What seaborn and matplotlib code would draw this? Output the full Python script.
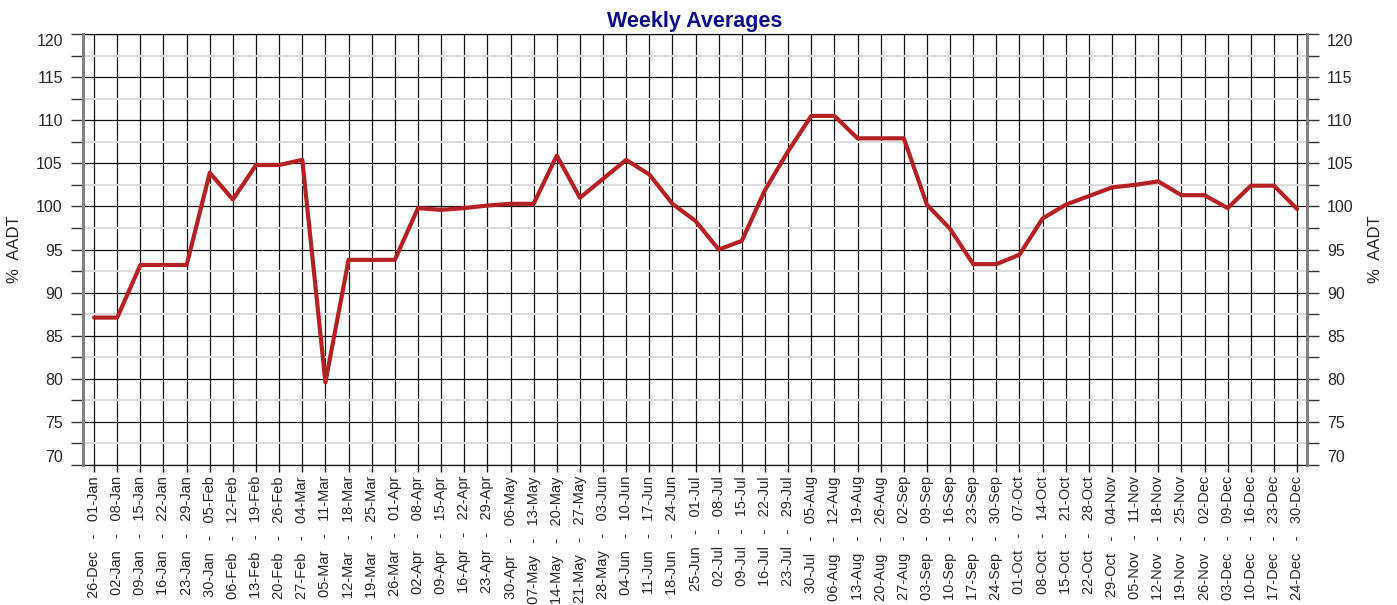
import numpy as np
import pandas as pd
import matplotlib
matplotlib.use("Agg")
import matplotlib.pyplot as plt
import seaborn as sns

# week start / end labels (53 weeks)
week_start = ["26-Dec", "02-Jan", "09-Jan", "16-Jan", "23-Jan", "30-Jan", "06-Feb", "13-Feb",
              "20-Feb", "27-Feb", "05-Mar", "12-Mar", "19-Mar", "26-Mar", "02-Apr", "09-Apr",
              "16-Apr", "23-Apr", "30-Apr", "07-May", "14-May", "21-May", "28-May", "04-Jun",
              "11-Jun", "18-Jun", "25-Jun", "02-Jul", "09-Jul", "16-Jul", "23-Jul", "30-Jul",
              "06-Aug", "13-Aug", "20-Aug", "27-Aug", "03-Sep", "10-Sep", "17-Sep", "24-Sep",
              "01-Oct", "08-Oct", "15-Oct", "22-Oct", "29-Oct", "05-Nov", "12-Nov", "19-Nov",
              "26-Nov", "03-Dec", "10-Dec", "17-Dec", "24-Dec"]
week_end = ["01-Jan", "08-Jan", "15-Jan", "22-Jan", "29-Jan", "05-Feb", "12-Feb", "19-Feb",
            "26-Feb", "04-Mar", "11-Mar", "18-Mar", "25-Mar", "01-Apr", "08-Apr", "15-Apr",
            "22-Apr", "29-Apr", "06-May", "13-May", "20-May", "27-May", "03-Jun", "10-Jun",
            "17-Jun", "24-Jun", "01-Jul", "08-Jul", "15-Jul", "22-Jul", "29-Jul", "05-Aug",
            "12-Aug", "19-Aug", "26-Aug", "02-Sep", "09-Sep", "16-Sep", "23-Sep", "30-Sep",
            "07-Oct", "14-Oct", "21-Oct", "28-Oct", "04-Nov", "11-Nov", "18-Nov", "25-Nov",
            "02-Dec", "09-Dec", "16-Dec", "23-Dec", "30-Dec"]

# weekly average as % of AADT
pct_aadt = [87.1, 87.1, 93.2, 93.2, 93.2, 103.9, 100.8, 104.8, 104.8, 105.4,
            79.6, 93.8, 93.8, 93.8, 99.8, 99.6, 99.8, 100.1, 100.3, 100.3,
            105.9, 101.0, 103.2, 105.4, 103.7, 100.3, 98.3, 95.0, 96.0, 101.9,
            106.4, 110.5, 110.5, 107.9, 107.9, 107.9, 100.2, 97.4, 93.3, 93.3,
            94.4, 98.6, 100.2, 101.2, 102.2, 102.5, 102.9, 101.3, 101.3, 99.8,
            102.4, 102.4, 99.7]

y_major = [70, 75, 80, 85, 90, 95, 100, 105, 110, 115, 120]

sns.set_theme(style="white")
plt.rcParams["font.family"] = ["Liberation Sans", "DejaVu Sans"]

df = pd.DataFrame({
    "pos": np.arange(len(pct_aadt)),
    "week": [f"{a}   -   {b}" for a, b in zip(week_start, week_end)],
    "pct": pct_aadt,
})

fig = plt.figure(figsize=(13.97, 6.05), dpi=100)
ax = fig.add_axes([0.0594, 0.2314, 0.8762, 0.7124])

sns.lineplot(data=df, x="pos", y="pct", ax=ax, color="#B52025", linewidth=3.0, zorder=5)

ax.set_xlim(-0.48, len(pct_aadt) - 1 + 0.43)
ax.set_ylim(70, 120)
ax.set_xticks(df["pos"])
ax.set_xticklabels(df["week"], rotation=90, fontsize=10.5)
ax.set_yticks(y_major)
ax.set_yticks(np.arange(72.5, 120, 5), minor=True)
ax.tick_params(axis="y", which="both", length=8.5, width=1.0, color="#333333",
               labelsize=11.5, pad=6, direction="out", left=True)
ax.tick_params(axis="x", length=5, width=1.0, color="#111111", pad=3, bottom=True)

ax.grid(axis="x", color="#111111", linewidth=0.9)
ax.grid(axis="y", which="major", color="#111111", linewidth=0.9)
ax.grid(axis="y", which="minor", color="#dcdcdc", linewidth=1.5)
ax.set_axisbelow(True)

for side in ["left", "right"]:
    ax.spines[side].set_color("#808080")
    ax.spines[side].set_linewidth(2.0)
for side in ["top", "bottom"]:
    ax.spines[side].set_color("#111111")
    ax.spines[side].set_linewidth(0.9)

ax.set_xlabel("")
ax.set_ylabel("%  AADT", fontsize=12, labelpad=10)
ax.set_title("Weekly Averages", fontsize=15.5, fontweight="bold", color="#0C0C8A", pad=5)

ax2 = ax.twinx()
ax2.set_ylim(70, 120)
ax2.set_yticks(y_major)
ax2.set_yticks(np.arange(72.5, 120, 5), minor=True)
ax2.tick_params(axis="y", which="both", length=8.5, width=1.0, color="#333333",
                labelsize=11.5, pad=6, direction="out", right=True)
ax2.set_ylabel("%  AADT", fontsize=12, labelpad=10)
ax2.grid(False)
for side in ["left", "right"]:
    ax2.spines[side].set_color("#808080")
    ax2.spines[side].set_linewidth(2.0)
for side in ["top", "bottom"]:
    ax2.spines[side].set_visible(False)

# edge labels are kept inside the plot height, as in the original
for a in (ax, ax2):
    labels = a.get_yticklabels()
    labels[0].set_verticalalignment("bottom")
    labels[-1].set_verticalalignment("top")

fig.savefig("out.png", dpi=100)
